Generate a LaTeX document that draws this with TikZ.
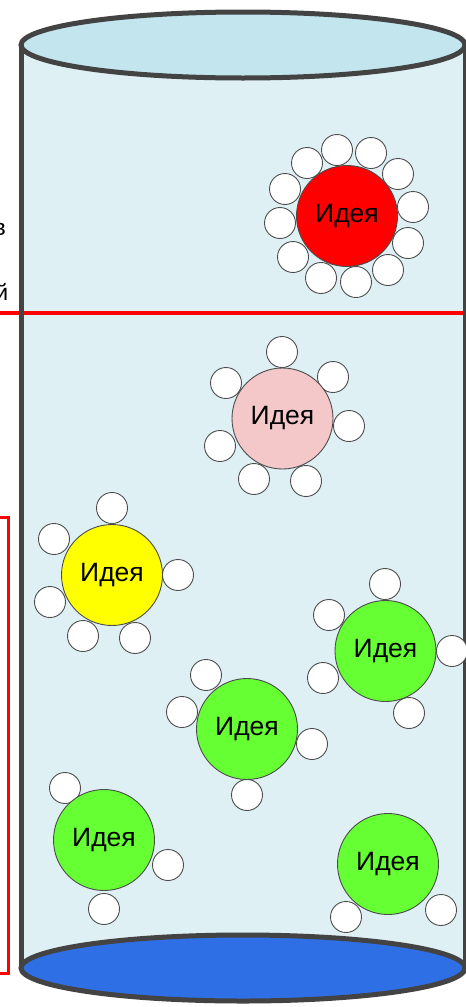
\documentclass[tikz,border=0pt]{standalone}
\usepackage{fontspec}
\setmainfont{Liberation Sans}
\definecolor{wallgray}{HTML}{434343}
\definecolor{bodyfill}{HTML}{DFF0F5}
\definecolor{lidfill}{HTML}{C2E5EE}
\definecolor{basefill}{HTML}{2F6FE6}
\definecolor{ideared}{HTML}{FF0000}
\definecolor{ideapink}{HTML}{F4C7C9}
\definecolor{ideayellow}{HTML}{FFFF00}
\definecolor{ideagreen}{HTML}{66FF33}
\begin{document}
\begin{tikzpicture}[x=1pt,y=-1pt,
  smallc/.style={circle,draw=black!70,line width=0.9pt,fill=white,minimum size=31pt,inner sep=0pt},
  idea/.style={circle,draw=black!70,line width=0.9pt,minimum size=101pt,inner sep=0pt,font=\fontsize{26.5}{30}\selectfont},
  wallline/.style={draw=wallgray,line width=5pt},
  redline/.style={draw=ideared,line width=4.5pt},
  cuttext/.style={anchor=base east,inner sep=0pt,font=\fontsize{23}{27}\selectfont}]
\useasboundingbox (0,0) rectangle (466,1007);
% cylinder body
\fill[bodyfill] (21,45) rectangle (465,968);
\filldraw[fill=basefill,wallline] (243,968) ellipse [x radius=222pt, y radius=33pt];
\filldraw[fill=lidfill,wallline] (243,45) ellipse [x radius=222pt, y radius=33pt];
\coordinate (wl1) at (21,45); \coordinate (wl2) at (21,968);
\coordinate (wr1) at (465,45); \coordinate (wr2) at (465,968);
% red divider
\coordinate (r1) at (-10,313); \coordinate (r2) at (480,313);
\draw[redline] (r1) -- (r2);
\draw[wallline] (wl1) -- (wl2);
\draw[wallline] (wr1) -- (wr2);
% red frame at left
\draw[draw=ideared,line width=3pt] (-20,517) rectangle (8,973);
% cut-off texts
\node[cuttext] (tv) at (6,235) {в};
\node[cuttext] (ty) at (8.5,300) {й};
% red idea
\foreach \x/\y [count=\i] in {337/150,371/153,307/163,398/174,285/189,413/207,280/223,408/243,293/257,388/270,321/278,356/282}
  \node[smallc] (ra\i) at (\x,\y) {};
\node[idea,fill=ideared] (ired) at (347,216) {Идея};
% pink idea
\foreach \x/\y [count=\i] in {282/352,226/383,333/377,349/426,220/446,254/479,306/481}
  \node[smallc] (pa\i) at (\x,\y) {};
\node[idea,fill=ideapink] (ipink) at (282.5,418.5) {Идея};
% yellow idea
\foreach \x/\y [count=\i] in {112/508,54/539,178/575,50/602,83/636,135/638}
  \node[smallc] (ya\i) at (\x,\y) {};
\node[idea,fill=ideayellow] (iyellow) at (112,575) {Идея};
% green 1
\foreach \x/\y [count=\i] in {385/584,329/615,452/651,323/678,409/713}
  \node[smallc] (ga\i) at (\x,\y) {};
\node[idea,fill=ideagreen] (igone) at (385.5,651) {Идея};
% green 2
\foreach \x/\y [count=\i] in {206/675,182/712,312/744,247/795}
  \node[smallc] (gb\i) at (\x,\y) {};
\node[idea,fill=ideagreen] (igtwo) at (247,729) {Идея};
% green 3
\foreach \x/\y [count=\i] in {65/788,168/865,104/909}
  \node[smallc] (gc\i) at (\x,\y) {};
\node[idea,fill=ideagreen] (igthree) at (104,840) {Идея};
% green 4
\foreach \x/\y [count=\i] in {346/917,441/910}
  \node[smallc] (gd\i) at (\x,\y) {};
\node[idea,fill=ideagreen] (igfour) at (388,864) {Идея};
\end{tikzpicture}
\end{document}
